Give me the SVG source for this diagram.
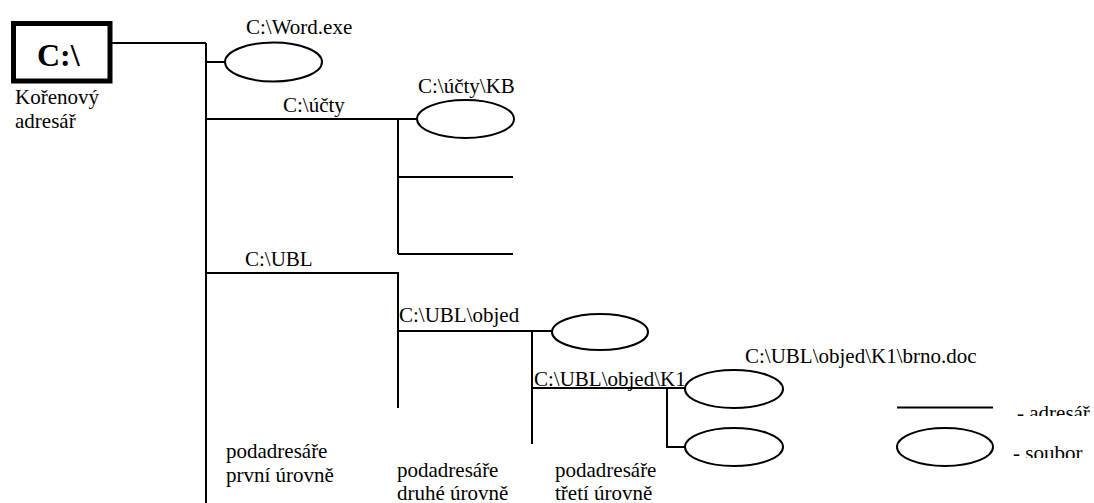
<svg xmlns="http://www.w3.org/2000/svg" width="1094" height="503" viewBox="0 0 1094 503">
<style>
.t{font-size:21px;fill:#000}
.ln{fill:none;stroke:#000;stroke-width:2}
.file{fill:#fff;stroke:#000;stroke-width:2}
.root{fill:#fff;stroke:#000;stroke-width:5}
.big{font-size:32px;font-weight:bold}
</style>
<defs>
<clipPath id="clipA"><rect x="1000" y="395" width="94" height="21"/></clipPath>
<clipPath id="clipS"><rect x="1000" y="436" width="94" height="22"/></clipPath>
</defs>
<rect width="1094" height="503" fill="#fff"/>
<g id="connectors">
<path class="ln" d="M112,43H206M206,43V503M206,62H225M206,119H417M398,119V254M398,177H513M398,254H513M206,273H398V408M398,331H552M532,331V444M532,388H685M667,388V447H685"/>
</g>
<g font-family="'Liberation Serif', 'DejaVu Serif', serif">
<g id="root">
<rect class="root" x="13.5" y="23.5" width="96.5" height="57.5"/>
<text class="t big" x="37" y="66">C:\</text>
<text class="t" x="15" y="104">Kořenový</text>
<text class="t" x="15" y="128">adresář</text>
</g>
<g id="word-exe">
<ellipse class="file" cx="273.5" cy="62" rx="48.5" ry="19.5"/>
<text class="t" x="246" y="34">C:\Word.exe</text>
</g>
<g id="ucty">
<text class="t" x="283" y="112">C:\účty</text>
</g>
<g id="ucty-kb">
<ellipse class="file" cx="465.5" cy="119" rx="48.5" ry="19"/>
<text class="t" x="418" y="93">C:\účty\KB</text>
</g>
<g id="ubl">
<text class="t" x="245" y="266">C:\UBL</text>
</g>
<g id="ubl-objed">
<text class="t" x="399" y="322">C:\UBL\objed</text>
</g>
<g id="objed-file">
<ellipse class="file" cx="600" cy="332" rx="48" ry="18"/>
</g>
<g id="ubl-objed-k1">
<text class="t" x="534" y="386">C:\UBL\objed\K1</text>
</g>
<g id="brno-doc">
<ellipse class="file" cx="734" cy="389" rx="49" ry="19"/>
<text class="t" x="745" y="363">C:\UBL\objed\K1\brno.doc</text>
</g>
<g id="k1-file2">
<ellipse class="file" cx="734" cy="447" rx="49" ry="19"/>
</g>
<g id="level-labels">
<text class="t" x="226" y="458">podadresáře</text>
<text class="t" x="226" y="482">první úrovně</text>
<text class="t" x="397" y="477">podadresáře</text>
<text class="t" x="397" y="500">druhé úrovně</text>
<text class="t" x="555" y="477">podadresáře</text>
<text class="t" x="555" y="500">třetí úrovně</text>
</g>
<g id="legend">
<path class="ln" d="M897,407.5H993"/>
<ellipse class="file" cx="945" cy="447" rx="48" ry="19"/>
<text class="t" x="1017" y="420" clip-path="url(#clipA)">- adresář</text>
<text class="t" x="1013" y="460" clip-path="url(#clipS)">- soubor</text>
</g>
</g>
</svg>
